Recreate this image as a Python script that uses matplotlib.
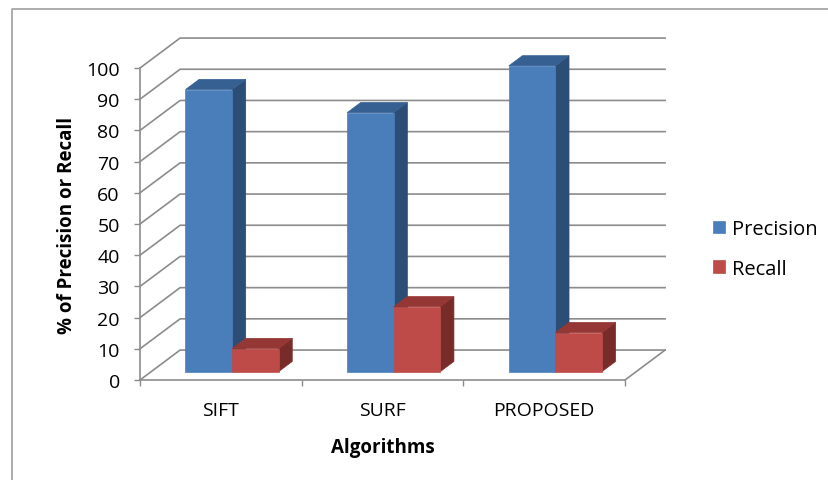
import matplotlib
matplotlib.use("Agg")
import matplotlib.pyplot as plt
from matplotlib.lines import Line2D

plt.rcParams['font.family'] = ['Open Sans', 'DejaVu Sans']

algorithms = ['SIFT', 'SURF', 'PROPOSED']
precision = [90.4, 83, 98]
recall = [7.4, 20.8, 12.5]

# fake 3D: how far the back wall is shifted, in data units
depth_x = 0.248
depth_y = 9.6
bar_width = 0.288
bar_front = 0.28
bar_back = 0.62
grid_color = '#8c8c8c'

fig = plt.figure(figsize=(8.29, 4.81), dpi=100)
ax = fig.add_axes([140 / 829, 1 - 381 / 481, 485 / 829, 312 / 481])
ax.set_xlim(0, 3)
ax.set_ylim(0, 100)


def draw_bar(left, value, front_color, side_color, top_color):
    x0 = left + depth_x * bar_front
    y0 = depth_y * bar_front
    dx = depth_x * (bar_back - bar_front)
    dy = depth_y * (bar_back - bar_front)
    right = x0 + bar_width
    top = y0 + value
    ax.fill([right, right + dx, right + dx, right], [y0, y0 + dy, top + dy, top],
            color=side_color, lw=0.5, clip_on=False, zorder=3)
    ax.fill([x0, x0 + dx, right + dx, right], [top, top + dy, top + dy, top],
            color=top_color, lw=0.5, clip_on=False, zorder=3)
    return ax.bar(x0, value, bar_width, bottom=y0, align='edge', color=front_color,
                  edgecolor=front_color, lw=0.5, clip_on=False, zorder=3)


# back wall grid lines and the left side going back
for v in range(0, 101, 10):
    ax.plot([0, depth_x, 3 + depth_x], [v, v + depth_y, v + depth_y], color=grid_color,
            lw=1.2, clip_on=False, zorder=1)
# floor right edge
ax.plot([3, 3 + depth_x], [0, depth_y], color=grid_color, lw=1.2, clip_on=False, zorder=1)

for i in range(len(algorithms)):
    p_bar = draw_bar(i + 0.5 - bar_width, precision[i], '#4a7ebb', '#2c4d75', '#376092')
    r_bar = draw_bar(i + 0.5, recall[i], '#be4b48', '#772c2a', '#953735')

for side in ['top', 'right']:
    ax.spines[side].set_visible(False)
for side in ['left', 'bottom']:
    ax.spines[side].set_color(grid_color)
    ax.spines[side].set_linewidth(1.2)

ax.set_yticks(range(0, 101, 10))
ax.tick_params(axis='y', length=4.5, width=1, color=grid_color, pad=10, labelsize=14, labelcolor='black')
ax.set_xticks(range(4))
ax.set_xticklabels([])
ax.tick_params(axis='x', length=4.5, width=1, color=grid_color)
ax.set_xticks([i + 0.5 for i in range(3)], minor=True)
ax.set_xticklabels(algorithms, minor=True)
ax.tick_params(axis='x', which='minor', length=0, pad=15, labelsize=14)

ax.set_xlabel('Algorithms', fontweight='bold', fontsize=13.5, labelpad=13)
ax.set_ylabel('% of Precision or Recall', fontweight='bold', fontsize=13.5, labelpad=7)

ax.legend([p_bar, r_bar], ['Precision', 'Recall'], loc='center left',
          bbox_to_anchor=(1.144, 0.42), frameon=False, fontsize=14.5, handlelength=0.6,
          handleheight=0.6, handletextpad=0.36, labelspacing=0.98)

# chart frame, only top and left show in the screenshot
fig.add_artist(Line2D([12 / 829, 12 / 829, 1], [0, 1 - 10 / 481, 1 - 10 / 481], color='#a6a6a6', lw=1.3))

fig.savefig('out.png', dpi=100)
